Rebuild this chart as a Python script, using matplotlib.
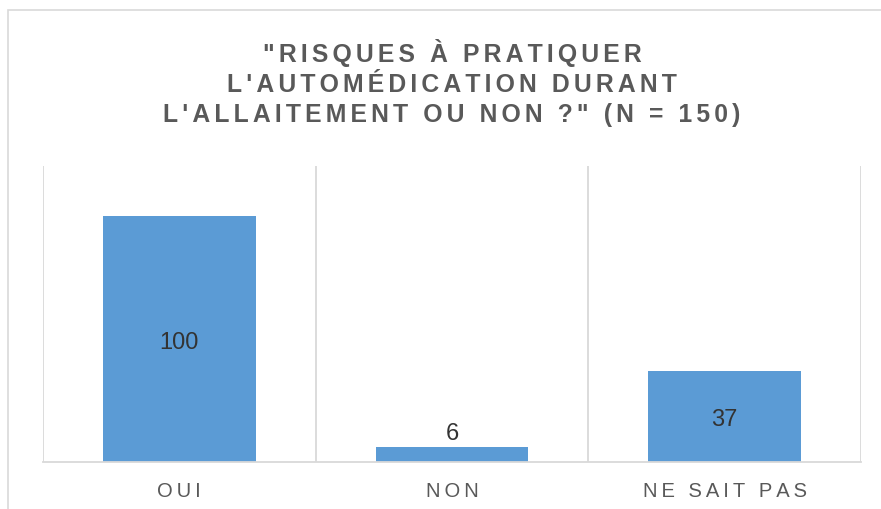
import matplotlib
matplotlib.use("Agg")
import matplotlib.pyplot as plt
from matplotlib.patches import Rectangle

categories = ["OUI", "NON", "NE SAIT PAS"]
values = [100, 6, 37]
title_lines = ['"RISQUES À PRATIQUER', "L'AUTOMÉDICATION DURANT", "L'ALLAITEMENT OU NON ?\" (N = 150)"]


def spaced(s, sep="\u2009"):
    return sep.join(list(s))


plt.rcParams['font.family'] = ['Liberation Sans', 'DejaVu Sans']

W, H = 881, 510
fig = plt.figure(figsize=(W / 100, H / 100), dpi=100)
ax = fig.add_axes([43 / W, (H - 463) / H, (861 - 43) / W, (463 - 167) / H])

x = list(range(len(categories)))
bars = ax.bar(x, values, width=0.56, color="#5B9BD5", zorder=2)

ax.set_xlim(-0.5, len(categories) - 0.5)
ax.set_ylim(0, 120.5)

# vertical separators at category boundaries
for b in [i - 0.5 for i in range(len(categories) + 1)]:
    ax.axvline(b, color="#D9D9D9", lw=1.3, zorder=1)

for s in ["top", "right", "left"]:
    ax.spines[s].set_visible(False)
ax.spines["bottom"].set_color("#D9D9D9")
ax.spines["bottom"].set_linewidth(1.3)
ax.set_yticks([])
ax.set_xticks(x)
ax.set_xticklabels([spaced(c) for c in categories], fontsize=14.5, color="#595959")
ax.tick_params(axis="x", length=0, pad=13.5)

for xi, v in zip(x, values):
    if v >= 20:
        ax.annotate(str(v), (xi, v / 2), xytext=(0, -2), textcoords="offset points",
                    ha="center", va="center", fontsize=17, color="#333333", zorder=3)
    else:
        ax.annotate(str(v), (xi, v), xytext=(0, 2.5), textcoords="offset points",
                    ha="center", va="bottom", fontsize=17, color="#333333", zorder=3)

fig.text(452 / W, 1 - 83 / H, "\n".join(spaced(l, "\u2006") for l in title_lines), ha="center", va="center",
         multialignment="center", fontsize=17.8, fontweight="bold", color="#595959", linespacing=1.32)

fig.patches.append(Rectangle((8 / W, -0.1), 1.0, (H - 11) / H + 0.1, transform=fig.transFigure,
                             fill=False, edgecolor="#D9D9D9", lw=1.2))

fig.savefig("out.png", dpi=100)
